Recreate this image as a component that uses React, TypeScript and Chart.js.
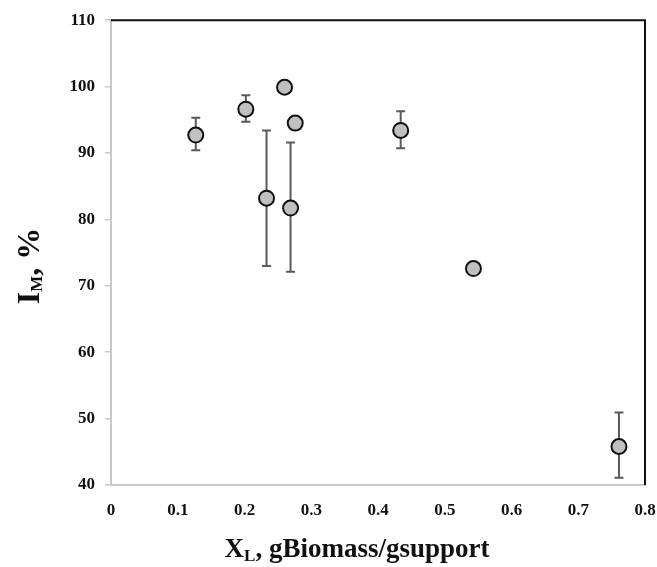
import React, { useEffect, useRef } from "react";
import { Chart, registerables } from "chart.js";

Chart.register(...registerables);

// Data
const xValues = [0.127, 0.202, 0.26, 0.276, 0.233, 0.269, 0.434, 0.543, 0.761];
const yValues = [92.7, 96.6, 99.9, 94.5, 83.2, 81.7, 93.4, 72.6, 45.8];
const errPlus = [2.6, 2.1, 0, 0, 10.2, 9.9, 2.9, 0, 5.1];
const errMinus = [2.3, 1.9, 0, 0, 10.2, 9.6, 2.7, 0, 4.7];
const xTickLabels = ["0", "0.1", "0.2", "0.3", "0.4", "0.5", "0.6", "0.7", "0.8"];
const yTickLabels = ["40", "50", "60", "70", "80", "90", "100", "110"];

const SERIF = '"Liberation Serif", "Times New Roman", serif';

type Part = { text: string; size: number; dy: number };

function drawRich(ctx: CanvasRenderingContext2D, parts: Part[], cx: number, baseY: number) {
  let total = 0;
  const widths = parts.map((p) => {
    ctx.font = `bold ${p.size}px ${SERIF}`;
    const w = ctx.measureText(p.text).width;
    total += w;
    return w;
  });
  let x = cx - total / 2;
  ctx.textAlign = "left";
  ctx.textBaseline = "alphabetic";
  parts.forEach((p, i) => {
    ctx.font = `bold ${p.size}px ${SERIF}`;
    ctx.fillText(p.text, x, baseY + p.dy);
    x += widths[i];
  });
}

const decorPlugin = {
  id: "decor",
  beforeDatasetsDraw(chart: any) {
    const ctx: CanvasRenderingContext2D = chart.ctx;
    const xs = chart.scales.x;
    const ys = chart.scales.y;
    ctx.save();
    ctx.strokeStyle = "#5a5a5a";
    ctx.lineWidth = 2;
    for (let i = 0; i < xValues.length; i++) {
      if (!errPlus[i] && !errMinus[i]) continue;
      const px = xs.getPixelForValue(xValues[i]);
      const top = ys.getPixelForValue(yValues[i] + errPlus[i]);
      const bot = ys.getPixelForValue(yValues[i] - errMinus[i]);
      const cap = 4.5;
      ctx.beginPath();
      ctx.moveTo(px, top);
      ctx.lineTo(px, bot);
      ctx.moveTo(px - cap, top);
      ctx.lineTo(px + cap, top);
      ctx.moveTo(px - cap, bot);
      ctx.lineTo(px + cap, bot);
      ctx.stroke();
    }
    ctx.restore();
  },
  afterDraw(chart: any) {
    const ctx: CanvasRenderingContext2D = chart.ctx;
    const a = chart.chartArea;
    ctx.save();
    // top and right black frame
    ctx.strokeStyle = "#111";
    ctx.lineWidth = 2;
    ctx.beginPath();
    ctx.moveTo(a.left, a.top);
    ctx.lineTo(a.right, a.top);
    ctx.lineTo(a.right, a.bottom);
    ctx.stroke();

    ctx.fillStyle = "#111";
    // x title
    drawRich(
      ctx,
      [
        { text: "X", size: 27, dy: 0 },
        { text: "L", size: 17, dy: 4 },
        { text: ", gBiomass/gsupport", size: 27, dy: 0 },
      ],
      357,
      557
    );
    // y title (rotated)
    ctx.translate(39, 266);
    ctx.rotate(-Math.PI / 2);
    drawRich(
      ctx,
      [
        { text: "I", size: 32, dy: 0 },
        { text: "M", size: 17, dy: 3 },
        { text: ", %", size: 32, dy: 0 },
      ],
      0,
      0
    );
    ctx.restore();
  },
};

export default function App() {
  const ref = useRef<HTMLCanvasElement | null>(null);
  useEffect(() => {
    document.body.style.margin = "0";
    if (!ref.current) return;
    const chart = new Chart(ref.current, {
      type: "scatter",
      data: {
        datasets: [
          {
            data: xValues.map((x, i) => ({ x, y: yValues[i] })),
            backgroundColor: "#c0c0c0",
            borderColor: "#111",
            borderWidth: 2,
            pointRadius: 7.5,
            pointHoverRadius: 7.5,
          },
        ],
      },
      options: {
        animation: false,
        responsive: true,
        maintainAspectRatio: false,
        layout: { padding: { top: 18, right: 0, left: 0, bottom: 0 } },
        plugins: { legend: { display: false }, tooltip: { enabled: false } },
        scales: {
          x: {
            type: "linear",
            min: 0,
            max: 0.8,
            afterFit: (s: any) => {
              s.height = 82;
              s.paddingRight = 12;
            },
            border: { color: "#c8c8c8", width: 2 },
            grid: { display: true, drawOnChartArea: false, drawTicks: false },
            ticks: {
              stepSize: 0.1,
              padding: 15,
              color: "#111",
              font: { family: SERIF, size: 17, weight: "bold" },
              callback: (_v: any, i: number) => xTickLabels[i],
            },
          },
          y: {
            type: "linear",
            min: 40,
            max: 110,
            afterFit: (s: any) => {
              s.width = 111;
            },
            border: { color: "#c8c8c8", width: 2 },
            grid: {
              display: true,
              drawOnChartArea: false,
              drawTicks: true,
              tickLength: 6,
              color: "#c8c8c8",
              lineWidth: 1.5,
            },
            ticks: {
              stepSize: 10,
              padding: 10,
              color: "#111",
              font: { family: SERIF, size: 17, weight: "bold" },
              callback: (_v: any, i: number) => yTickLabels[i],
            },
          },
        },
      },
      plugins: [decorPlugin],
    });
    return () => chart.destroy();
  }, []);
  return (
    <div style={{ position: "fixed", left: 0, top: 0, width: 657, height: 567, background: "#fff" }}>
      <canvas ref={ref} />
    </div>
  );
}
